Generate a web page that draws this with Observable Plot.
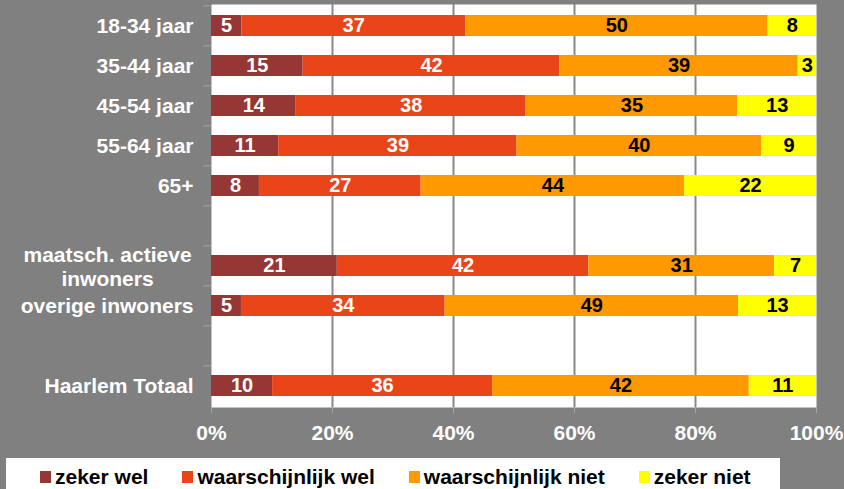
<!DOCTYPE html>
<html><head><meta charset="utf-8">
<script src="https://cdn.jsdelivr.net/npm/d3@7"></script>
<script src="https://cdn.jsdelivr.net/npm/@observablehq/plot@0.6"></script>
<style>
html,body{margin:0;padding:0;background:#808080;width:844px;height:489px;overflow:hidden;font-family:"Liberation Sans",Arial,sans-serif;}
#chart svg{display:block;}
#legendbox{background:#fff;margin-left:6px;width:774px;height:31px;overflow:hidden;}
.lg-swatches{margin:0 !important;padding-left:34px;font-family:"Liberation Sans",Arial,sans-serif !important;font-size:21px !important;font-weight:bold;color:#000;}
.lg-swatches-wrap{min-height:0 !important;height:24px;padding-top:7px;flex-wrap:nowrap !important;}
.lg-swatch{margin-right:34px !important;white-space:nowrap;}
.lg-swatch > svg{margin-right:4px !important;}
</style></head><body>
<div id="chart"></div><div id="legendbox"></div>
<script>
// Categories (top to bottom), with empty slots kept as gaps
const categories = ["18-34 jaar","35-44 jaar","45-54 jaar","55-64 jaar","65+","maatsch. actieve\ninwoners","overige inwoners","Haarlem Totaal"];
const rowOrder = ["18-34 jaar","35-44 jaar","45-54 jaar","55-64 jaar","65+","","maatsch. actieve\ninwoners","overige inwoners"," ","Haarlem Totaal"];
const series = ["zeker wel","waarschijnlijk wel","waarschijnlijk niet","zeker niet"];
const zekerWel          = [5,15,14,11,8,21,5,10];
const waarschijnlijkWel = [37,42,38,39,27,42,34,36];
const waarschijnlijkNiet= [50,39,35,40,44,31,49,42];
const zekerNiet         = [8,3,13,9,22,7,13,11];
const colors = ["#953735","#EA4519","#FF9900","#FFFF00"];
const xTicks = [0,0.2,0.4,0.6,0.8,1];
const xTickLabels = ["0%","20%","40%","60%","80%","100%"];

const seriesValues = [zekerWel, waarschijnlijkWel, waarschijnlijkNiet, zekerNiet];
const data = [];
series.forEach((s, si) => categories.forEach((c, ci) => data.push({cat: c, series: s, value: seriesValues[si][ci]})));
const lightSeries = new Set(["zeker wel","waarschijnlijk wel"]);
const multi = categories.find(c => c.includes("\n"));
const font = "Liberation Sans, Arial, sans-serif";

const labelOpts = {x: "value", y: "cat", z: "series", offset: "normalize", text: "value", fontSize: 20, fontWeight: "bold"};

const plot = Plot.plot({
  width: 844, height: 458,
  marginTop: 4, marginBottom: 51, marginLeft: 211, marginRight: 28,
  style: {background: "transparent", fontFamily: font, overflow: "visible"},
  x: {domain: [0, 1], label: null},
  y: {domain: rowOrder, paddingInner: 0.48, paddingOuter: 0.24, label: null},
  color: {domain: series, range: colors},
  marks: [
    Plot.frame({fill: "white", stroke: null}),
    Plot.gridX({ticks: xTicks.slice(1, -1), stroke: "#888", strokeOpacity: 1, strokeWidth: 2}),
    Plot.barX(data, Plot.stackX({x: "value", y: "cat", z: "series", fill: "series", offset: "normalize"})),
    Plot.text(data, Plot.filter(d => lightSeries.has(d.series), Plot.stackX({...labelOpts, fill: "white"}))),
    Plot.text(data, Plot.filter(d => !lightSeries.has(d.series), Plot.stackX({...labelOpts, fill: "black"}))),
    Plot.axisX({ticks: xTicks, tickFormat: d => xTickLabels[xTicks.indexOf(d)], tickSize: 6, tickPadding: 12,
      stroke: "#a6a6a6", fill: "white", fontSize: 21, fontWeight: "bold", label: null}),
    Plot.axisY({tickSize: 0, tickPadding: 18, fill: "white", fontSize: 21, fontWeight: "bold",
      tickFormat: d => d.includes("\n") ? "" : d, label: null}),
    Plot.axisY({text: null, tickSize: 8, dy: -20.15, stroke: "#a6a6a6", label: null}),
    Plot.text([multi], {y: d => d, text: d => d, frameAnchor: "left", dx: -104, textAnchor: "middle",
      fill: "white", fontSize: 21, fontWeight: "bold", lineHeight: 1.14})
  ]
});
document.getElementById("chart").appendChild(plot);

const legend = Plot.legend({color: {domain: series, range: colors}, legend: "swatches",
  swatchWidth: 11, swatchHeight: 12, className: "lg"});
document.getElementById("legendbox").appendChild(legend);
</script>
</body></html>
